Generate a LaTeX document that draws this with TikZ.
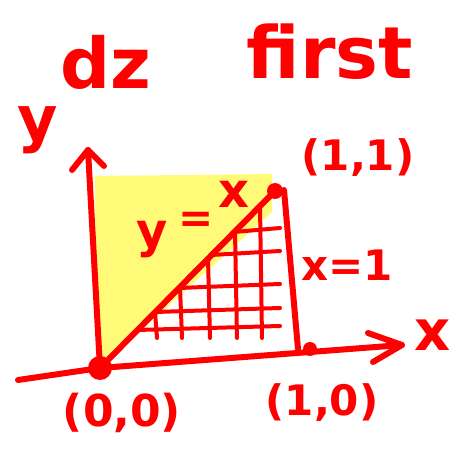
\documentclass[tikz,border=0pt]{standalone}
\usepackage{fontspec}
\setmainfont{DejaVu Sans}
\definecolor{inkred}{RGB}{255, 0, 0}
\definecolor{hiyellow}{RGB}{255, 250, 120}
\usetikzlibrary{arrows.meta, calc}

\newcommand{\inksize}[1]{\fontsize{#1}{#1}\selectfont\bfseries}

\begin{document}
\begin{tikzpicture}[x=1pt, y=-1pt,
    ink/.style={draw=inkred, line width=6pt, line cap=round, line join=round},
    thin ink/.style={draw=inkred, line width=4pt, line cap=round},
    scrawl/.style={text=inkred, inner sep=0pt, font=\inksize{#1}},
    scrawl/.default=42,
    dot/.style={circle, fill=inkred, inner sep=0pt}]
    \useasboundingbox (0,0) rectangle (464,449);

    % Points
    \coordinate (O) at (100,368);
    \coordinate (P) at (275,191);
    \coordinate (Q) at (310,349);

    % Shaded region above y=x
    \fill[hiyellow] (95,176) -- (272,174) -- (272,212) -- (O) -- (96,360) -- cycle;

    % Grid under the line
    \foreach \xa/\ya in {234/232, 211/255, 179/288, 155/312, 137/330}
        \draw[thin ink] (\xa,\ya) -- (280,\ya-4);
    \foreach \xb/\yb in {155/312, 180/287, 208/258, 235/231, 260/205}
        \draw[thin ink] (\xb,\yb) -- (\xb+2,338);

    % Axes
    \draw[ink] (18,380) -- (O) -- (402,345);
    \draw[ink] (368,333) -- (402,345) -- (373,362);
    \draw[ink] (O) -- (88,150);
    \draw[ink] (72,170) -- (88,150) -- (104,166);

    % Boundary lines
    \draw[ink] (O) -- (P);
    \draw[ink] (284,190) -- (298,349);

    % Dots
    \node[dot, minimum size=24pt] (o) at (O) {};
    \node[dot, minimum size=16pt] (p) at (P) {};
    \node[dot, minimum size=14pt] (q) at (Q) {};

    % Labels
    \node[scrawl=70] (dz) at (106,62) {dz};
    \node[scrawl=72] (first) at (330,52) {first};
    \node[scrawl=62] (ylab) at (38,130) {y};
    \node[scrawl=56] (xlab) at (433,335) {x};
    \node[scrawl] (p11) at (358,158) {(1,1)};
    \node[scrawl=44] (p00) at (122,413) {(0,0)};
    \node[scrawl] (p10) at (322,403) {(1,0)};
    \node[scrawl] (xone) at (347,265) {x=1};
    % y=x written up along the diagonal
    \node[scrawl=48] (yx1) at (152,240) {y};
    \node[scrawl] (yx2) at (196,222) {=};
    \node[scrawl=48] (yx3) at (234,194) {x};
\end{tikzpicture}
\end{document}
